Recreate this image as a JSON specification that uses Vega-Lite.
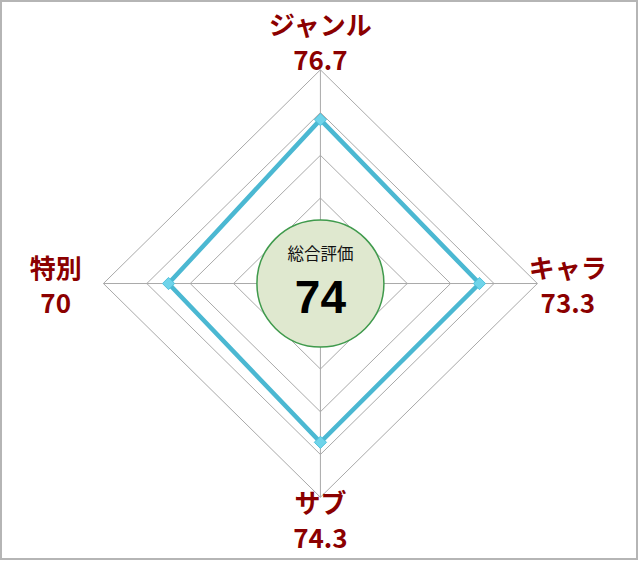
{
  "$schema": "https://vega.github.io/schema/vega-lite/v6.json",
  "description": "Radar chart of four review scores with the overall score in the centre.",
  "width": 636,
  "height": 558,
  "autosize": {"type": "none"},
  "padding": {"left": 1, "top": 1, "right": 1, "bottom": 3},
  "background": "white",
  "datasets": {
    "scores": [
      {"axis": "ジャンル", "angle": 0, "score": 76.7},
      {"axis": "キャラ", "angle": 90, "score": 73.3},
      {"axis": "サブ", "angle": 180, "score": 74.3},
      {"axis": "特別", "angle": 270, "score": 70}
    ],
    "rings": [
      {"level": 20, "angle": [0, 90, 180, 270]},
      {"level": 40, "angle": [0, 90, 180, 270]},
      {"level": 60, "angle": [0, 90, 180, 270]},
      {"level": 80, "angle": [0, 90, 180, 270]},
      {"level": 100, "angle": [0, 90, 180, 270]}
    ],
    "overall": [{"title": "総合評価", "total": 74}]
  },
  "layer": [
    {
      "data": {"name": "rings"},
      "transform": [
        {"flatten": ["angle"]},
        {"calculate": "datum.level * sin(datum.angle * PI / 180)", "as": "rx"},
        {"calculate": "datum.level * cos(datum.angle * PI / 180)", "as": "ry"}
      ],
      "mark": {"type": "line", "interpolate": "linear-closed", "stroke": "#a9a9a9", "strokeWidth": 1},
      "encoding": {
        "x": {"field": "rx", "type": "quantitative", "scale": {"domain": [-147.2, 145.9], "nice": false, "zero": false}, "axis": null},
        "y": {"field": "ry", "type": "quantitative", "scale": {"domain": [-128.9, 132.2], "nice": false, "zero": false}, "axis": null},
        "detail": {"field": "level", "type": "nominal"},
        "order": {"field": "angle", "type": "quantitative"}
      }
    },
    {
      "data": {"name": "scores"},
      "transform": [
        {"calculate": "100 * sin(datum.angle * PI / 180)", "as": "sx"},
        {"calculate": "100 * cos(datum.angle * PI / 180)", "as": "sy"},
        {"calculate": "0", "as": "o"}
      ],
      "mark": {"type": "rule", "stroke": "#a9a9a9", "strokeWidth": 1},
      "encoding": {
        "x": {"field": "o", "type": "quantitative", "scale": {"domain": [-147.2, 145.9], "nice": false, "zero": false}, "axis": null},
        "y": {"field": "o", "type": "quantitative", "scale": {"domain": [-128.9, 132.2], "nice": false, "zero": false}, "axis": null},
        "x2": {"field": "sx"},
        "y2": {"field": "sy"}
      }
    },
    {
      "data": {"name": "scores"},
      "transform": [
        {"calculate": "datum.score * sin(datum.angle * PI / 180)", "as": "px"},
        {"calculate": "datum.score * cos(datum.angle * PI / 180)", "as": "py"}
      ],
      "layer": [
        {
          "mark": {"type": "line", "interpolate": "linear-closed", "stroke": "#4bb8d2", "strokeWidth": 4.5},
          "encoding": {
            "x": {"field": "px", "type": "quantitative", "scale": {"domain": [-147.2, 145.9], "nice": false, "zero": false}, "axis": null},
            "y": {"field": "py", "type": "quantitative", "scale": {"domain": [-128.9, 132.2], "nice": false, "zero": false}, "axis": null},
            "order": {"field": "angle", "type": "quantitative"}
          }
        },
        {
          "mark": {"type": "point", "shape": "diamond", "filled": true, "size": 150, "fill": "#6fd4ea", "stroke": "#52c2dc", "strokeWidth": 1, "opacity": 1},
          "encoding": {
            "x": {"field": "px", "type": "quantitative", "scale": {"domain": [-147.2, 145.9], "nice": false, "zero": false}, "axis": null},
            "y": {"field": "py", "type": "quantitative", "scale": {"domain": [-128.9, 132.2], "nice": false, "zero": false}, "axis": null},
            "tooltip": [
              {"field": "axis", "type": "nominal"},
              {"field": "score", "type": "quantitative"}
            ]
          }
        }
      ]
    },
    {
      "data": {"name": "overall"},
      "transform": [{"calculate": "0", "as": "o"}],
      "layer": [
        {
          "mark": {"type": "point", "shape": "circle", "filled": true, "size": 16129, "fill": "#dfe8cf", "stroke": "#3f9a4c", "strokeWidth": 1.5, "opacity": 1},
          "encoding": {
            "x": {"field": "o", "type": "quantitative", "scale": {"domain": [-147.2, 145.9], "nice": false, "zero": false}, "axis": null},
            "y": {"field": "o", "type": "quantitative", "scale": {"domain": [-128.9, 132.2], "nice": false, "zero": false}, "axis": null}
          }
        },
        {
          "mark": {"type": "text", "dy": -29, "fontSize": 16.5, "font": "Noto Sans CJK JP", "color": "#111111", "baseline": "middle", "align": "center"},
          "encoding": {
            "x": {"field": "o", "type": "quantitative", "scale": {"domain": [-147.2, 145.9], "nice": false, "zero": false}, "axis": null},
            "y": {"field": "o", "type": "quantitative", "scale": {"domain": [-128.9, 132.2], "nice": false, "zero": false}, "axis": null},
            "text": {"field": "title"}
          }
        },
        {
          "mark": {"type": "text", "dy": 15, "fontSize": 46, "fontWeight": "bold", "font": "Liberation Sans", "color": "#000000", "baseline": "middle", "align": "center"},
          "encoding": {
            "x": {"field": "o", "type": "quantitative", "scale": {"domain": [-147.2, 145.9], "nice": false, "zero": false}, "axis": null},
            "y": {"field": "o", "type": "quantitative", "scale": {"domain": [-128.9, 132.2], "nice": false, "zero": false}, "axis": null},
            "text": {"field": "total"}
          }
        }
      ]
    },
    {
      "data": {"name": "scores"},
      "transform": [
        {"calculate": "datum.angle == 270 ? 122 : (datum.angle == 180 ? 103.5 : (datum.angle == 0 ? 120 : 114))", "as": "lr"},
        {"calculate": "datum.lr * sin(datum.angle * PI / 180)", "as": "lx"},
        {"calculate": "datum.lr * cos(datum.angle * PI / 180) + (datum.angle % 180 == 90 ? 6.1 : 0)", "as": "ly"},
        {"calculate": "[datum.axis, format(datum.score, '')]", "as": "label"}
      ],
      "mark": {"type": "text", "fontSize": 26, "fontWeight": "bold", "font": "Noto Sans CJK JP", "color": "#8b0000", "align": "center", "baseline": "middle", "lineHeight": 35},
      "encoding": {
        "x": {"field": "lx", "type": "quantitative", "scale": {"domain": [-147.2, 145.9], "nice": false, "zero": false}, "axis": null},
        "y": {"field": "ly", "type": "quantitative", "scale": {"domain": [-128.9, 132.2], "nice": false, "zero": false}, "axis": null},
        "text": {"field": "label"}
      }
    }
  ],
  "config": {
    "view": {"stroke": "#b5b5b5", "strokeWidth": 2},
    "axis": {"grid": false}
  }
}
